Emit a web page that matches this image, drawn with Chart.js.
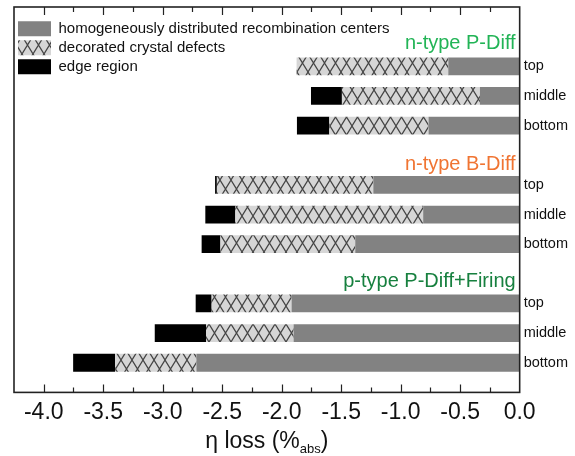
<!DOCTYPE html>
<html><head><meta charset="utf-8">
<script src="https://cdn.jsdelivr.net/npm/chart.js@4.4.0/dist/chart.umd.min.js"></script>
<style>html,body{margin:0;padding:0;background:#fff}</style>
</head><body>
<canvas id="c" width="575" height="456" style="width:575px;height:456px;display:block"></canvas>
<script>
// ---- data ----
const rowLabels = ['', '', 'top', 'middle', 'bottom', '', 'top', 'middle', 'bottom', '', 'top', 'middle', 'bottom', ''];
const homogeneous    = [null, null, -0.600, -0.334, -0.766, null, -1.230, -0.811, -1.382, null, -1.917, -1.900, -2.717, null];
const crystalDefects = [null, null, -1.275, -1.160, -0.834, null, -1.315, -1.579, -1.133, null, -0.672, -0.736, -0.683, null];
const edgeRegion     = [null, null,  0.000, -0.260, -0.272, null, -0.015, -0.252, -0.158, null, -0.134, -0.431, -0.353, null];
const seriesNames = ['homogeneously distributed recombination centers', 'decorated crystal defects', 'edge region'];
const groupNames = ['n-type P-Diff', 'n-type B-Diff', 'p-type P-Diff+Firing'];
const groupRows = [1.4, 5.5, 9.45];
const groupColors = ['#22b456', '#f07432', '#17803f'];
const xMin = -4.25, xMax = 0;

const FONT = "'Liberation Sans', Arial, sans-serif";
Chart.defaults.font.family = FONT;
Chart.defaults.color = '#111';

// cross-hatch pattern
function makeHatch() {
  const p = document.createElement('canvas');
  p.width = 11; p.height = 18;
  const g = p.getContext('2d');
  g.fillStyle = '#d6d6d6';
  g.fillRect(0, 0, 11, 18);
  g.strokeStyle = '#444';
  g.lineWidth = 1.2;
  g.beginPath();
  g.moveTo(0, 0); g.lineTo(11, 18);
  g.moveTo(11, 0); g.lineTo(0, 18);
  g.stroke();
  return document.getElementById('c').getContext('2d').createPattern(p, 'repeat');
}
const hatch = makeHatch();

const framePlugin = {
  id: 'frame',
  afterDatasetsDraw(chart) {
    const ctx = chart.ctx, a = chart.chartArea, xs = chart.scales.x, ys = chart.scales.y;
    ctx.save();
    // group labels
    ctx.textAlign = 'right';
    ctx.textBaseline = 'alphabetic';
    ctx.font = '20px ' + FONT;
    groupNames.forEach((n, i) => {
      ctx.fillStyle = groupColors[i];
      ctx.fillText(n, xs.getPixelForValue(0) - 4, ys.getPixelForValue(groupRows[i]));
    });
    // inward ticks top & bottom
    ctx.strokeStyle = '#222';
    ctx.lineWidth = 1.2;
    ctx.beginPath();
    for (let k = 1; k < 17; k++) {
      const v = xMin + k * 0.25;
      const px = Math.round(xs.getPixelForValue(v)) + 0.5;
      const major = Math.abs(v * 2 - Math.round(v * 2)) < 1e-6;
      const len = major ? 8 : 5;
      ctx.moveTo(px, a.bottom); ctx.lineTo(px, a.bottom - len);
      ctx.moveTo(px, a.top); ctx.lineTo(px, a.top + len);
    }
    ctx.stroke();
    // box
    ctx.lineWidth = 1.6;
    ctx.strokeStyle = '#222';
    ctx.strokeRect(a.left, a.top, a.right - a.left, a.bottom - a.top);
    // axis title with subscript
    const cx = (a.left + a.right) / 2;
    const base = chart.height - 8;
    ctx.fillStyle = '#111';
    ctx.textAlign = 'left';
    const main = '\u03b7 loss (%', sub = 'abs', close = ')';
    ctx.font = '23px ' + FONT;
    const w1 = ctx.measureText(main).width, w3 = ctx.measureText(close).width;
    ctx.font = '13px ' + FONT;
    const w2 = ctx.measureText(sub).width;
    let x0 = cx - (w1 + w2 + w3) / 2;
    ctx.font = '23px ' + FONT;
    ctx.fillText(main, x0, base);
    ctx.font = '13px ' + FONT;
    ctx.fillText(sub, x0 + w1, base + 5);
    ctx.font = '23px ' + FONT;
    ctx.fillText(close, x0 + w1 + w2, base);
    ctx.restore();
  }
};

new Chart(document.getElementById('c'), {
  type: 'bar',
  data: {
    labels: rowLabels,
    datasets: [
      { label: seriesNames[0], data: homogeneous, backgroundColor: '#828282', borderWidth: 0 },
      { label: seriesNames[1], data: crystalDefects, backgroundColor: hatch, borderWidth: 0 },
      { label: seriesNames[2], data: edgeRegion, backgroundColor: '#000000', borderWidth: 0 }
    ]
  },
  options: {
    indexAxis: 'y',
    responsive: false,
    animation: false,
    devicePixelRatio: 1,
    barPercentage: 0.6,
    categoryPercentage: 1.0,
    layout: { padding: { left: 14, top: 7, right: 3, bottom: 24 } },
    scales: {
      x: {
        type: 'linear', stacked: true, min: xMin, max: xMax,
        grid: { display: false, drawTicks: false }, border: { display: false },
        ticks: {
          stepSize: 0.5, includeBounds: false, padding: 6,
          font: { size: 23 }, color: '#111',
          callback: v => v.toFixed(1)
        }
      },
      y: {
        type: 'category', stacked: true, position: 'right', offset: false,
        grid: { display: false, drawTicks: false }, border: { display: false },
        ticks: { autoSkip: false, padding: 4, font: { size: 14.5 }, color: '#111' },
        afterFit(scale) { scale.paddingTop = 0; }
      }
    },
    plugins: {
      tooltip: { enabled: false },
      legend: {
        position: 'chartArea', align: 'start',
        title: { display: true, text: ' ', font: { size: 6 }, padding: { top: 10, bottom: 0 } },
        labels: { boxWidth: 33, boxHeight: 15, padding: 4, font: { size: 15 }, color: '#111' }
      }
    }
  },
  plugins: [framePlugin]
});
</script>
</body></html>
